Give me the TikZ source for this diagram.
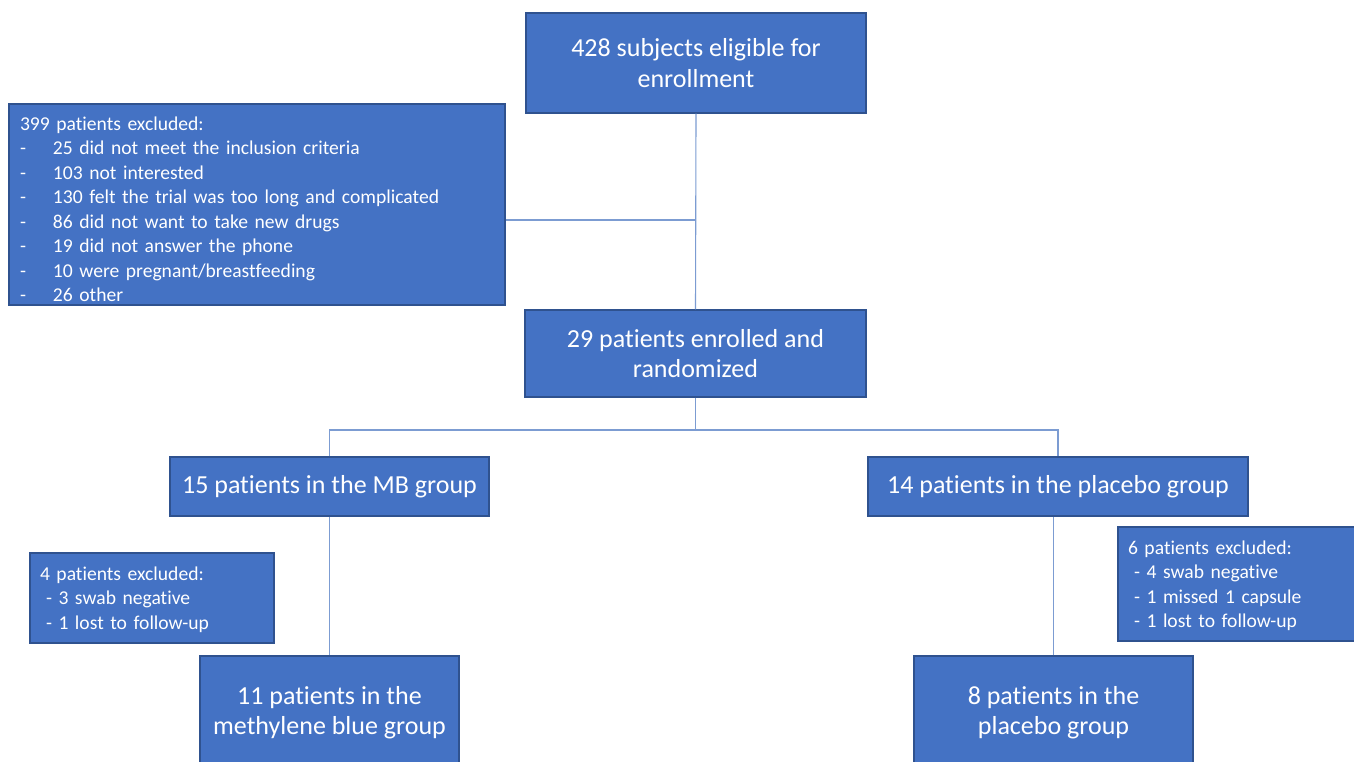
\documentclass[tikz,border=0pt]{standalone}
\usepackage{fontspec}
\setmainfont{Carlito}[Ligatures=NoCommon]
\definecolor{boxfill}{HTML}{4472C4}
\definecolor{boxline}{HTML}{2F528F}
\definecolor{connc}{HTML}{7C9CD2}
\newcommand{\li}{\makebox[33pt][l]{-}}
\begin{document}
\begin{tikzpicture}[x=1pt,y=-1pt,
  box/.style={draw=boxline, line width=1.2pt, fill=boxfill, text=white, inner sep=0pt, align=center, font=\fontsize{26}{30.5}\selectfont},
  exbox/.style={box, align=left, font=\fontsize{19.6}{24.5}\selectfont},
  conn/.style={draw=connc, line width=1.1pt}]
\useasboundingbox (0,0) rectangle (1354,762);
\clip (0,0) rectangle (1354,762);
\fill[white] (0,0) rectangle (1354,762);

\node[box, minimum width=340pt, minimum height=100pt] (elig) at (696,63) {428 subjects eligible for\\enrollment};
\node[exbox, minimum width=496pt, minimum height=201pt, text width=474pt, inner xsep=11pt] (excl) at (257,204.5)
 {\rule{0pt}{23pt}399 patients excluded:\\\li 25 did not meet the inclusion criteria\\\li 103 not interested\\\li 130 felt the trial was too long and complicated\\\li 86 did not want to take new drugs\\\li 19 did not answer the phone\\\li 10 were pregnant/breastfeeding\\\li 26 other};
\node[box, minimum width=341pt, minimum height=87pt] (enr) at (695.5,353.5) {29 patients enrolled and\\randomized};
\node[box, minimum width=319pt, minimum height=59pt] (mb) at (329.5,486.5) {15 patients in the MB group};
\node[box, minimum width=380pt, minimum height=59pt] (pl) at (1058,486.5) {14 patients in the placebo group};
\node[exbox, minimum width=244pt, minimum height=90pt, text width=224pt, inner xsep=10pt] (mbex) at (152,598)
 {\rule{0pt}{17pt}4 patients excluded:\\\hspace{6pt}- 3 swab negative\\\hspace{6pt}- 1 lost to follow-up};
\node[exbox, minimum width=244pt, minimum height=114pt, text width=224pt, inner xsep=10pt] (plex) at (1240,584)
 {\rule{0pt}{17pt}6 patients excluded:\\\hspace{6pt}- 4 swab negative\\\hspace{6pt}- 1 missed 1 capsule\\\hspace{6pt}- 1 lost to follow-up};
\node[box, minimum width=259pt, minimum height=113pt] (mbfin) at (329.5,712.5) {11 patients in the\\methylene blue group};
\node[box, minimum width=279pt, minimum height=113pt] (plfin) at (1053.5,712.5) {8 patients in the\\placebo group};

\coordinate (j1) at (696,220);
\coordinate (split) at (697,430);
\draw[conn] (elig.south) -- (enr.north);
\draw[conn] (j1) -- (excl.east |- j1);
\draw[conn] (enr.south) -- (enr.south |- split);
\draw[conn] (mb.north) |- (split) -| (pl.north);
\draw[conn] (mb.south) -- (mbfin.north);
\draw[conn] (plfin.north) -- (plfin.north |- pl.south);
\end{tikzpicture}
\end{document}
